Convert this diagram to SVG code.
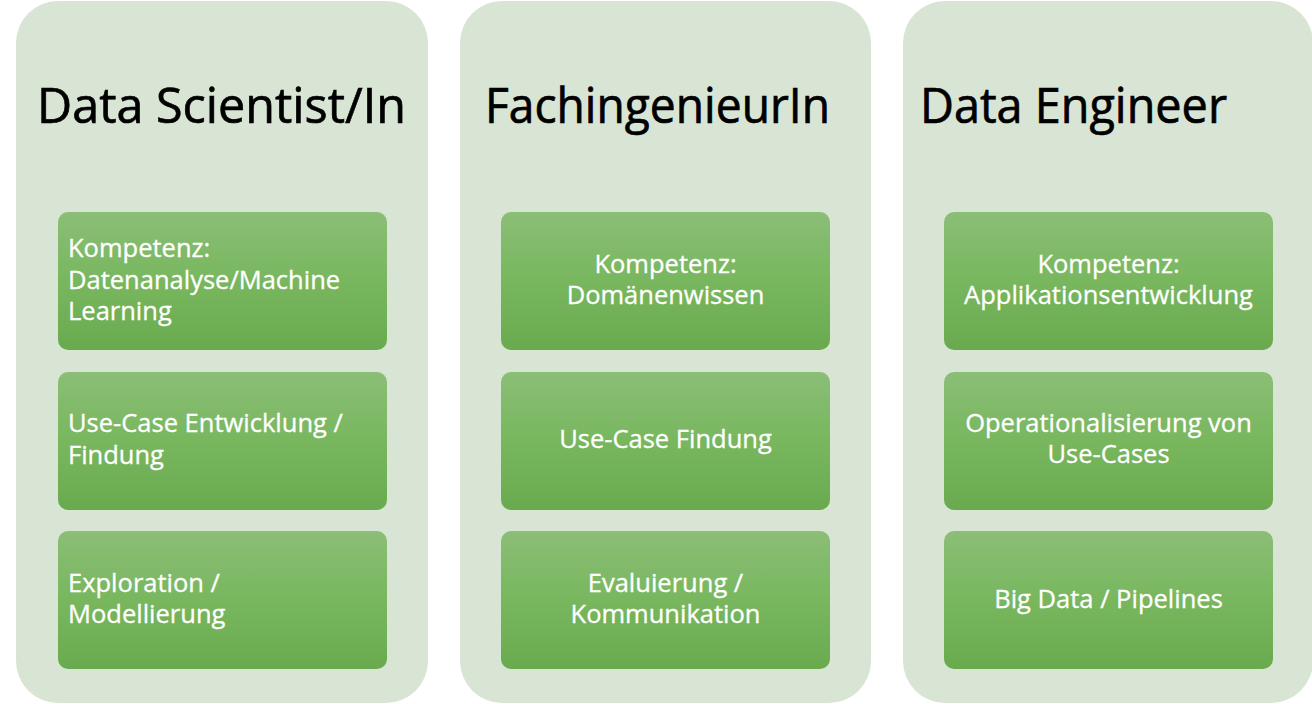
<svg xmlns="http://www.w3.org/2000/svg" width="1312" height="704" viewBox="0 0 1312 704">
  <defs>
    <linearGradient id="cardFill" x1="0" y1="0" x2="0" y2="1">
      <stop offset="0" stop-color="#8BBE77"/>
      <stop offset="0.5" stop-color="#78B75E"/>
      <stop offset="1" stop-color="#6AAA4F"/>
    </linearGradient>
    <style>
      .lane { fill: #D9E5D4; }
      .card { fill: url(#cardFill); }
      .title { font-family: "Open Sans", "Noto Sans", sans-serif; font-size: 49px; fill: #000; stroke: #000; stroke-width: 0.7px; }
      .label { font-family: "Open Sans", "Noto Sans", sans-serif; font-size: 25.5px; fill: #fff; stroke: #fff; stroke-width: 0.3px; }
      .mid { text-anchor: middle; }
    </style>
  </defs>

  <rect width="1312" height="704" fill="#ffffff"/>

  <!-- Column 1 -->
  <g id="data-scientist">
    <rect class="lane" x="16" y="1" width="412" height="702" rx="42"/>
    <text class="title" x="37" y="123" textLength="369" lengthAdjust="spacingAndGlyphs">Data Scientist/In</text>
    <g id="ds-kompetenz">
      <rect class="card" x="58" y="212" width="329" height="138" rx="10"/>
      <text class="label" x="68" y="257">Kompetenz:</text>
      <text class="label" x="68" y="289">Datenanalyse/Machine</text>
      <text class="label" x="68" y="320">Learning</text>
    </g>
    <g id="ds-usecase">
      <rect class="card" x="58" y="372" width="329" height="138" rx="10"/>
      <text class="label" x="68" y="432">Use-Case Entwicklung /</text>
      <text class="label" x="68" y="464">Findung</text>
    </g>
    <g id="ds-exploration">
      <rect class="card" x="58" y="531" width="329" height="138" rx="10"/>
      <text class="label" x="68" y="592">Exploration /</text>
      <text class="label" x="68" y="623">Modellierung</text>
    </g>
  </g>

  <!-- Column 2 -->
  <g id="fachingenieur">
    <rect class="lane" x="460" y="1" width="411" height="702" rx="42"/>
    <text class="title" x="485" y="123" textLength="345" lengthAdjust="spacingAndGlyphs">FachingenieurIn</text>
    <g id="fi-kompetenz">
      <rect class="card" x="501" y="212" width="329" height="138" rx="10"/>
      <text class="label mid" x="665.5" y="273">Kompetenz:</text>
      <text class="label mid" x="665.5" y="304">Domänenwissen</text>
    </g>
    <g id="fi-usecase">
      <rect class="card" x="501" y="372" width="329" height="138" rx="10"/>
      <text class="label mid" x="665.5" y="448">Use-Case Findung</text>
    </g>
    <g id="fi-evaluierung">
      <rect class="card" x="501" y="531" width="329" height="138" rx="10"/>
      <text class="label mid" x="665.5" y="592">Evaluierung /</text>
      <text class="label mid" x="665.5" y="623">Kommunikation</text>
    </g>
  </g>

  <!-- Column 3 -->
  <g id="data-engineer">
    <rect class="lane" x="903" y="1" width="410" height="702" rx="42"/>
    <text class="title" x="920" y="123" textLength="307" lengthAdjust="spacingAndGlyphs">Data Engineer</text>
    <g id="de-kompetenz">
      <rect class="card" x="944" y="212" width="329" height="138" rx="10"/>
      <text class="label mid" x="1108.5" y="273">Kompetenz:</text>
      <text class="label mid" x="1108.5" y="304">Applikationsentwicklung</text>
    </g>
    <g id="de-operationalisierung">
      <rect class="card" x="944" y="372" width="329" height="138" rx="10"/>
      <text class="label mid" x="1108.5" y="432">Operationalisierung von</text>
      <text class="label mid" x="1108.5" y="463">Use-Cases</text>
    </g>
    <g id="de-bigdata">
      <rect class="card" x="944" y="531" width="329" height="138" rx="10"/>
      <text class="label mid" x="1108.5" y="608">Big Data / Pipelines</text>
    </g>
  </g>
</svg>
